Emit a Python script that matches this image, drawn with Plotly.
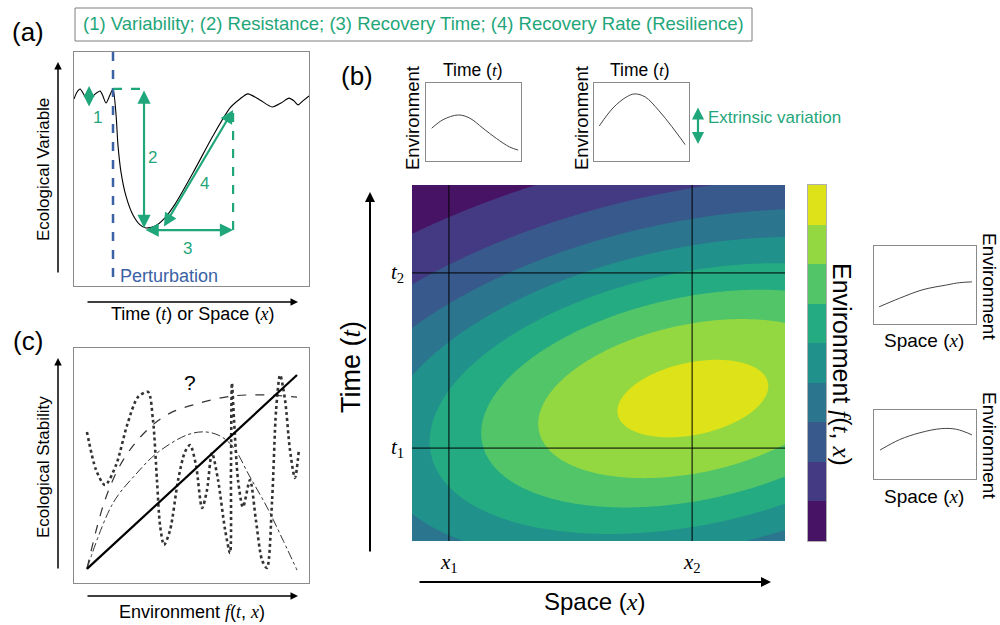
import numpy as np
import plotly.graph_objects as go

W, H = 1000, 625

# ---------------- data ----------------
# Panel (a): ecological variable before/after a perturbation (arbitrary units 0-100)
a_time = [0, 1.3, 2.6, 4.3, 6.0, 8.5, 11.1, 12.3, 13.6, 15.3, 16.6, 17.9, 18.7, 20.0, 22.1,
          25.1, 28.1, 30.6, 34.5, 38.7, 43.0, 50.6, 59.1, 66.4, 70.6, 74.0, 79.1, 84.3,
          88.1, 91.5, 93.6, 95.3, 97.4, 100]
a_value = [79.9, 82.9, 84.2, 81.6, 79.1, 81.6, 83.3, 81.2, 78.2, 81.6, 84.2, 73.1, 60.3, 48.7, 38.5,
           30.3, 26.1, 24.8, 25.6, 29.1, 35.0, 48.3, 64.1, 76.1, 79.9, 82.1, 79.5, 76.5,
           78.2, 80.3, 79.1, 77.4, 79.1, 81.2]
perturbation_time = 16.6
pre_level = 84.2
min_time, min_value = 29.8, 24.8
recovery_time = 67.7
recovery_value = 75.2

# Panel (c): hypothetical stability-environment relationships
c_env_linear = [5.5, 94.9]
c_stab_linear = [6.0, 88.5]
c_env_sat = [5.5, 13.2, 20.9, 31.1, 40.9, 53.6, 67.7, 82.1, 94.9]
c_stab_sat = [6.0, 35.3, 52.3, 65.1, 72.3, 76.6, 79.6, 80.0, 79.1]
c_env_hump = [5.5, 16.6, 26.8, 35.3, 48.1, 55.7, 62.1, 67.7, 74.9, 82.1, 88.9, 94.9]
c_stab_hump = [6.0, 34.0, 46.8, 55.3, 63.0, 64.3, 62.6, 57.9, 45.1, 32.3, 18.3, 5.5]
c_env_osc = [5.5, 9.4, 13.2, 17.9, 22.6, 27.2, 31.5, 33.6, 35.3, 36.6, 38.3, 40.9, 44.3, 47.2,
             49.4, 51.9, 54.5, 56.6, 58.7, 61.3, 64.3, 66.4, 66.8, 67.2, 68.1, 69.8, 71.9,
             74.9, 77.4, 80.0, 82.1, 84.3, 86.0, 87.7, 89.8, 91.9, 94.0, 95.7]
c_stab_osc = [64.3, 48.1, 41.7, 50.2, 67.2, 79.1, 81.3, 69.4, 43.8, 24.7, 16.2, 22.6, 43.8, 55.7,
              58.7, 50.2, 31.9, 39.6, 55.3, 43.8, 22.6, 12.8, 48.1, 85.1, 69.4, 43.8, 32.3,
              43.8, 26.8, 9.8, 6.4, 35.3, 73.6, 88.5, 77.9, 56.6, 44.7, 56.6]

# Panel (b): environment field parameters (space x and time t on 0-1)
env_peak_x, env_peak_t = 0.753, 0.40
env_spread_x, env_spread_t = 0.764, 0.36
env_tilt_deg = 12.0
env_level_low, env_level_step, env_n_levels = 0.156, 0.115, 8
x1_pos, x2_pos = 0.099, 0.751
t1_pos, t2_pos = 0.261, 0.753
band_colors = ['#471365', '#443983', '#38598c', '#2b758e', '#21918c',
               '#25ab82', '#52c569', '#93d741', '#dde318']

# Small profile plots (normalised 0-1)
p1_t = [0.06, 0.18, 0.34, 0.46, 0.60, 0.74, 0.88, 0.97]
p1_env = [0.42, 0.53, 0.59, 0.55, 0.42, 0.29, 0.18, 0.14]
p2_t = [0.056, 0.20, 0.34, 0.43, 0.54, 0.68, 0.82, 0.96]
p2_env = [0.45, 0.68, 0.82, 0.86, 0.82, 0.65, 0.44, 0.21]
p3_x = [0.05, 0.25, 0.48, 0.71, 0.84, 0.96]
p3_env = [0.22, 0.33, 0.44, 0.50, 0.53, 0.54]
p4_x = [0.06, 0.25, 0.45, 0.66, 0.81, 0.96]
p4_env = [0.42, 0.57, 0.67, 0.73, 0.72, 0.64]

# ---------------- styling helpers ----------------
GREEN = "#1fa67a"
BLUE = "#3a62a5"
BOXC = "#8a8a8a"
FONT = "Liberation Sans, Arial, sans-serif"
SERIF = "Liberation Serif, DejaVu Serif, serif"


def it(s):
    return '<span style="font-family:Liberation Serif"><i>' + s + '</i></span>'


def px(x):
    return x / W


def py(y):
    return 1 - y / H


def dom_x(l, r):
    return [l / W, r / W]


def dom_y(t, b):
    return [1 - b / H, 1 - t / H]


def box_axis(rng, dom, anchor, line=True):
    return dict(range=rng, domain=dom, anchor=anchor, showgrid=False, zeroline=False,
                showticklabels=False, ticks='', showline=line, mirror=line,
                linecolor=BOXC, linewidth=1, fixedrange=True)


def txt(x, y, text, size, color="black", angle=0, xanchor="center", xref="paper", yref="paper", family=FONT):
    return dict(x=x, y=y, xref=xref, yref=yref, text=text, showarrow=False,
                font=dict(size=size, color=color, family=family), textangle=angle,
                xanchor=xanchor, yanchor="middle")


def parrow(x0, y0, x1, y1, color="black", width=1.5, both=False, head=2, size=1.0):
    # arrow between two screen-pixel positions of the page
    return dict(x=px(x1), y=py(y1), xref="paper", yref="paper", axref="pixel", ayref="pixel",
                ax=x0 - x1, ay=y0 - y1, text="", showarrow=True, arrowhead=head,
                arrowsize=size, arrowwidth=width, arrowcolor=color,
                arrowside="end+start" if both else "end", startarrowhead=head,
                startarrowsize=size, standoff=0, startstandoff=0)


def darrow(x0, y0, x1, y1, xr, yr, color=GREEN, width=2.2, both=True, head=2, size=1.2):
    return dict(x=x1, y=y1, ax=x0, ay=y0, xref=xr, yref=yr, axref=xr, ayref=yr, text="",
                showarrow=True, arrowhead=head, arrowsize=size, arrowwidth=width,
                arrowcolor=color, arrowside="end+start" if both else "end",
                startarrowhead=head, startarrowsize=size, standoff=0, startstandoff=0)


fig = go.Figure()

# ---------- panel (a) ----------
fig.add_trace(go.Scatter(x=a_time, y=a_value, mode="lines", line=dict(color="black", width=1.1, shape="spline", smoothing=0.7),
                         xaxis="x", yaxis="y", hoverinfo="skip"))
fig.add_trace(go.Scatter(x=[perturbation_time, perturbation_time], y=[100, 2], mode="lines",
                         line=dict(color=BLUE, width=2.5, dash="dash"), xaxis="x", yaxis="y", hoverinfo="skip"))
fig.add_trace(go.Scatter(x=[perturbation_time, min_time], y=[pre_level, pre_level], mode="lines",
                         line=dict(color=GREEN, width=2.2, dash="dash"), xaxis="x", yaxis="y", hoverinfo="skip"))
fig.add_trace(go.Scatter(x=[recovery_time, recovery_time], y=[min_value - 0.9, recovery_value], mode="lines",
                         line=dict(color=GREEN, width=2.2, dash="dash"), xaxis="x", yaxis="y", hoverinfo="skip"))

# ---------- panel (c) ----------
fig.add_trace(go.Scatter(x=c_env_osc, y=c_stab_osc, mode="lines",
                         line=dict(color="#333333", width=2.6, dash="dot", shape="spline", smoothing=0.8),
                         xaxis="x2", yaxis="y2", hoverinfo="skip"))
fig.add_trace(go.Scatter(x=c_env_sat, y=c_stab_sat, mode="lines",
                         line=dict(color="#333333", width=1.2, dash="dash", shape="spline"),
                         xaxis="x2", yaxis="y2", hoverinfo="skip"))
fig.add_trace(go.Scatter(x=c_env_hump, y=c_stab_hump, mode="lines",
                         line=dict(color="#333333", width=1.0, dash="dashdot", shape="spline"),
                         xaxis="x2", yaxis="y2", hoverinfo="skip"))
fig.add_trace(go.Scatter(x=c_env_linear, y=c_stab_linear, mode="lines",
                         line=dict(color="black", width=2.2), xaxis="x2", yaxis="y2", hoverinfo="skip"))

# ---------- panel (b) contour ----------
xs = np.linspace(0, 1, 241)
ts = np.linspace(0, 1, 241)
X, T = np.meshgrid(xs, ts)
aspect = 373.0 / 356.0
dx = (X - env_peak_x) * aspect
dt = T - env_peak_t
th = np.radians(env_tilt_deg)
u = dx * np.cos(th) + dt * np.sin(th)
v = -dx * np.sin(th) + dt * np.cos(th)
field = np.exp(-0.5 * ((u / env_spread_x) ** 2 + (v / env_spread_t) ** 2))
Z = (field - env_level_low) / env_level_step

cscale = [[k / (len(band_colors) - 1), c] for k, c in enumerate(band_colors)]
fig.add_trace(go.Contour(x=xs, y=ts, z=Z, colorscale=cscale, autocontour=False,
                         contours=dict(start=0, end=env_n_levels - 1, size=1, coloring="fill", showlines=False),
                         line=dict(width=0), showscale=False, xaxis="x3", yaxis="y3", hoverinfo="skip"))
for xv in [x1_pos, x2_pos]:
    fig.add_trace(go.Scatter(x=[xv, xv], y=[0, 1], mode="lines", line=dict(color="black", width=1),
                             xaxis="x3", yaxis="y3", hoverinfo="skip"))
for tv in [t1_pos, t2_pos]:
    fig.add_trace(go.Scatter(x=[0, 1], y=[tv, tv], mode="lines", line=dict(color="black", width=1),
                             xaxis="x3", yaxis="y3", hoverinfo="skip"))

# colour bar as discrete heatmap
fig.add_trace(go.Heatmap(z=[[k] for k in range(len(band_colors))], x=[0], y=list(range(len(band_colors))),
                         colorscale=cscale, zmin=0, zmax=len(band_colors) - 1, showscale=False,
                         xaxis="x4", yaxis="y4", hoverinfo="skip"))

# small profile plots
for xa, ya, xd, yd in [("x5", "y5", p1_t, p1_env), ("x6", "y6", p2_t, p2_env),
                       ("x7", "y7", p3_x, p3_env), ("x8", "y8", p4_x, p4_env)]:
    fig.add_trace(go.Scatter(x=xd, y=yd, mode="lines", line=dict(color="#444444", width=1, shape="spline"),
                             xaxis=xa, yaxis=ya, hoverinfo="skip"))

layout = dict(
    width=W, height=H, margin=dict(l=0, r=0, t=0, b=0), autosize=False,
    paper_bgcolor="white", plot_bgcolor="rgba(0,0,0,0)", showlegend=False,
    xaxis=box_axis([0, 100], dom_x(74, 309), "y"),
    yaxis=box_axis([0, 100], dom_y(52, 286), "x"),
    xaxis2=box_axis([0, 100], dom_x(74, 309), "y2"),
    yaxis2=box_axis([0, 100], dom_y(348, 583), "x2"),
    xaxis3=box_axis([0, 1], dom_x(412, 785), "y3", line=False),
    yaxis3=box_axis([0, 1], dom_y(185, 541), "x3", line=False),
    xaxis4=box_axis([-0.5, 0.5], dom_x(808, 826), "y4"),
    yaxis4=box_axis([-0.5, len(band_colors) - 0.5], dom_y(185, 541), "x4"),
    xaxis5=box_axis([0, 1], dom_x(426, 521), "y5"),
    yaxis5=box_axis([0, 1], dom_y(83, 161), "x5"),
    xaxis6=box_axis([0, 1], dom_x(594, 689), "y6"),
    yaxis6=box_axis([0, 1], dom_y(83, 161), "x6"),
    xaxis7=box_axis([0, 1], dom_x(874, 976), "y7"),
    yaxis7=box_axis([0, 1], dom_y(246, 324), "x7"),
    xaxis8=box_axis([0, 1], dom_x(874, 976), "y8"),
    yaxis8=box_axis([0, 1], dom_y(410, 479), "x8"),
)
fig.update_layout(**layout)
fig.layout.yaxis4.linecolor = "#b0b0b0"
fig.layout.xaxis4.linecolor = "#b0b0b0"

anns = []
# header box text
anns.append(dict(x=px(413), y=py(24), xref="paper", yref="paper", showarrow=False,
                 text="(1) Variability; (2) Resistance; (3) Recovery Time; (4) Recovery Rate (Resilience)",
                 font=dict(size=18.5, color=GREEN, family=FONT), xanchor="center", yanchor="middle"))
anns.append(txt(px(28), py(32), "(a)", 26))
anns.append(txt(px(357), py(76), "(b)", 26))
anns.append(txt(px(28), py(341), "(c)", 26))

# panel (a) texts and arrows
anns.append(txt(px(43), py(170), "Ecological Variable", 17, angle=-90))
anns.append(txt(px(192), py(314), "Time (" + it("t") + ") or Space (" + it("x") + ")", 18))
anns.append(parrow(58, 274, 58, 62))
anns.append(parrow(86, 302, 298, 302))
anns.append(txt(px(118), py(276), "Perturbation", 18, color=BLUE, xanchor="left"))
anns.append(darrow(6.4, 76.1, 6.4, 85.5, "x", "y", size=1.0))
anns.append(txt(10.2, 72.2, "1", 17, color=GREEN, xref="x", yref="y"))
anns.append(darrow(min_time, pre_level, min_time, min_value, "x", "y"))
anns.append(txt(33.2, 55.1, "2", 17, color=GREEN, xref="x", yref="y"))
anns.append(darrow(min_time, min_value - 0.9, recovery_time, min_value - 0.9, "x", "y"))
anns.append(txt(48.5, 16.2, "3", 17, color=GREEN, xref="x", yref="y"))
anns.append(darrow(37.9, 24.8, recovery_time, recovery_value, "x", "y"))
anns.append(txt(55.7, 44.0, "4", 17, color=GREEN, xref="x", yref="y"))

# panel (c)
anns.append(txt(px(43), py(467), "Ecological Stability", 17, angle=-90))
anns.append(parrow(58, 570, 58, 358))
anns.append(parrow(86, 596, 298, 596))
anns.append(txt(px(192), py(612), "Environment " + it("f") + "(" + it("t") + ", " + it("x") + ")", 18))
anns.append(txt(49.4, 85.5, "?", 21, xref="x2", yref="y2"))

# panel (b) main axes
anns.append(parrow(370, 553, 370, 192, width=2))
anns.append(parrow(418, 582, 771, 582, width=2))
anns.append(txt(px(351), py(367), "Time (" + it("t") + ")", 27, angle=-90))
anns.append(txt(px(594), py(601), "Space (" + it("x") + ")", 24))
anns.append(txt(x1_pos, py(563), it("x") + "<sub>1</sub>", 21, xref="x3", family=SERIF))
anns.append(txt(x2_pos, py(563), it("x") + "<sub>2</sub>", 21, xref="x3", family=SERIF))
anns.append(txt(px(397), t2_pos, it("t") + "<sub>2</sub>", 21, yref="y3", family=SERIF))
anns.append(txt(px(397), t1_pos, it("t") + "<sub>1</sub>", 21, yref="y3", family=SERIF))
anns.append(txt(px(842), py(364), "Environment " + it("f") + "(" + it("t") + ", " + it("x") + ")", 25, angle=90))

# small plots labels
anns.append(txt(px(473), py(70), "Time (" + it("t") + ")", 17.5))
anns.append(txt(px(413), py(118), "Environment", 18.5, angle=-90))
anns.append(txt(px(640), py(70), "Time (" + it("t") + ")", 17.5))
anns.append(txt(px(582), py(118), "Environment", 18.5, angle=-90))
anns.append(parrow(698, 106, 698, 144, color=GREEN, width=2.2, both=True, size=1.1))
anns.append(txt(px(706), py(118), "Extrinsic variation", 17, color=GREEN, xanchor="left"))
anns.append(txt(px(924), py(340), "Space (" + it("x") + ")", 19))
anns.append(txt(px(990), py(286), "Environment", 19, angle=90))
anns.append(txt(px(924), py(496), "Space (" + it("x") + ")", 19))
anns.append(txt(px(990), py(445), "Environment", 19, angle=90))

fig.update_layout(annotations=anns)

# header box
fig.add_shape(type="rect", xref="paper", yref="paper", x0=px(75), x1=px(752), y0=py(41), y1=py(8),
              line=dict(color="#7f7f7f", width=1), fillcolor="rgba(0,0,0,0)")

fig.write_html("out.html", config={"displayModeBar": False},
               post_script="document.body.style.margin='0';document.body.style.overflow='hidden';")
